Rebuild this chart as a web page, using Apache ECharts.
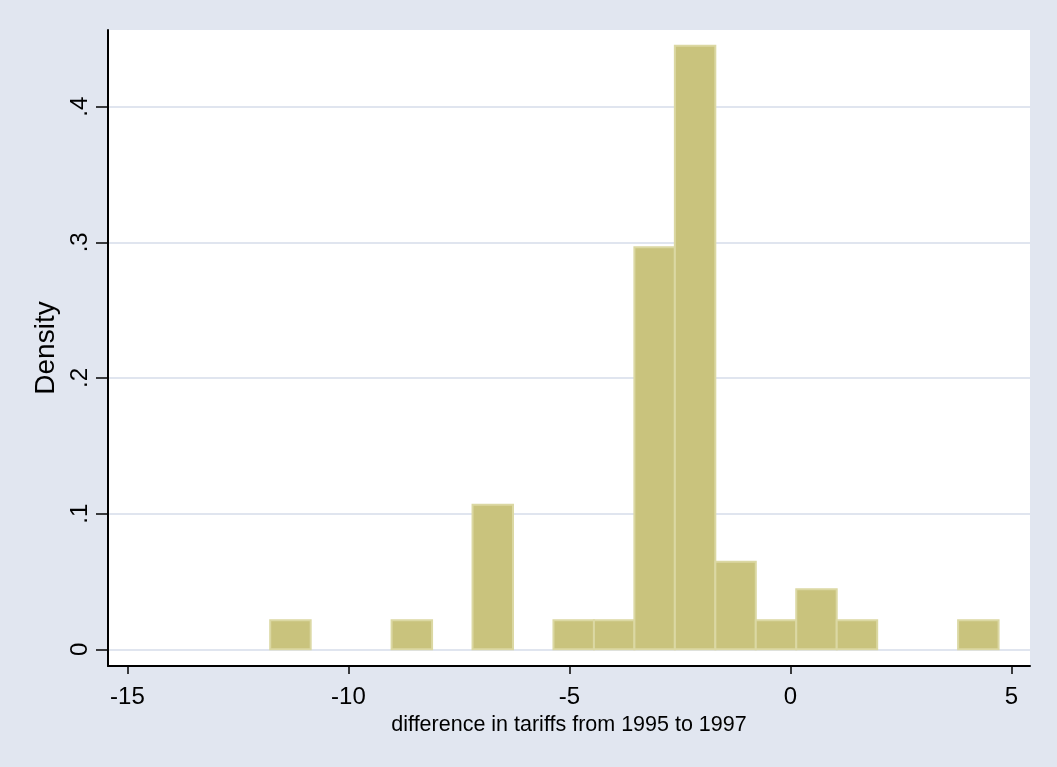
<!DOCTYPE html>
<html>
<head>
<meta charset="utf-8">
<script src="https://cdn.jsdelivr.net/npm/echarts@6/dist/echarts.min.js"></script>
<style>
html,body{margin:0;padding:0;background:#e1e6f0;}
#chart{width:1057px;height:767px;}
</style>
</head>
<body>
<div id="chart"></div>
<script>
// Histogram data
const binStart = -11.77;
const binWidth = 0.9155;
const density = [0.0215, 0, 0, 0.0215, 0, 0.1066, 0, 0.0215, 0.0215, 0.2963, 0.4448, 0.0646, 0.0215, 0.0442, 0.0215, 0, 0, 0.0215];
const xTicks = [-15, -10, -5, 0, 5];
const yTicks = [0, 0.1, 0.2, 0.3, 0.4];
const yTickLabels = ['0', '.1', '.2', '.3', '.4'];
const xTitle = 'difference in tariffs from 1995 to 1997';
const yTitle = 'Density';

const bins = [];
density.forEach((d, i) => {
  if (d > 0) bins.push([binStart + i * binWidth, binStart + (i + 1) * binWidth, d]);
});

const chart = echarts.init(document.getElementById('chart'), null, {renderer: 'canvas'});
const font = 'Liberation Sans, Arial, sans-serif';
chart.setOption({
  backgroundColor: '#e1e6f0',
  animation: false,
  grid: {left: 108, right: 27, top: 30, bottom: 101, show: true, backgroundColor: '#ffffff', borderWidth: 0},
  xAxis: {
    type: 'value', min: -15.44, max: 5.42,
    axisLine: {show: true, onZero: false, lineStyle: {color: '#000', width: 2}},
    axisTick: {show: true, length: 8, lineStyle: {color: '#000', width: 1.5}, customValues: xTicks},
    axisLabel: {customValues: xTicks, color: '#000', fontSize: 24, fontFamily: font, margin: 19},
    splitLine: {show: false},
    name: xTitle, nameLocation: 'middle', nameGap: 45,
    nameTextStyle: {color: '#000', fontSize: 21.5, fontFamily: font}
  },
  yAxis: {
    type: 'value', min: -0.0123, max: 0.4565,
    axisLine: {show: true, onZero: false, lineStyle: {color: '#000', width: 2}},
    axisTick: {show: true, length: 12, lineStyle: {color: '#000', width: 1.5}, customValues: yTicks},
    axisLabel: {
      customValues: yTicks, color: '#000', fontSize: 24, fontFamily: font, rotate: 90, margin: 16,
      formatter: v => yTickLabels[yTicks.findIndex(t => Math.abs(t - v) < 1e-9)]
    },
    splitLine: {show: true, lineStyle: {color: '#e0e5ef', width: 2}},
    name: yTitle, nameLocation: 'middle', nameGap: 43,
    nameTextStyle: {color: '#000', fontSize: 28, fontFamily: font}
  },
  series: [{
    type: 'custom',
    data: bins,
    renderItem: function (params, api) {
      const p0 = api.coord([api.value(0), api.value(2)]);
      const p1 = api.coord([api.value(1), 0]);
      return {
        type: 'rect',
        shape: {x: p0[0], y: p0[1], width: p1[0] - p0[0], height: p1[1] - p0[1]},
        style: {fill: '#c9c37d', stroke: '#dbd8a3', lineWidth: 2}
      };
    }
  }]
});
</script>
</body>
</html>
